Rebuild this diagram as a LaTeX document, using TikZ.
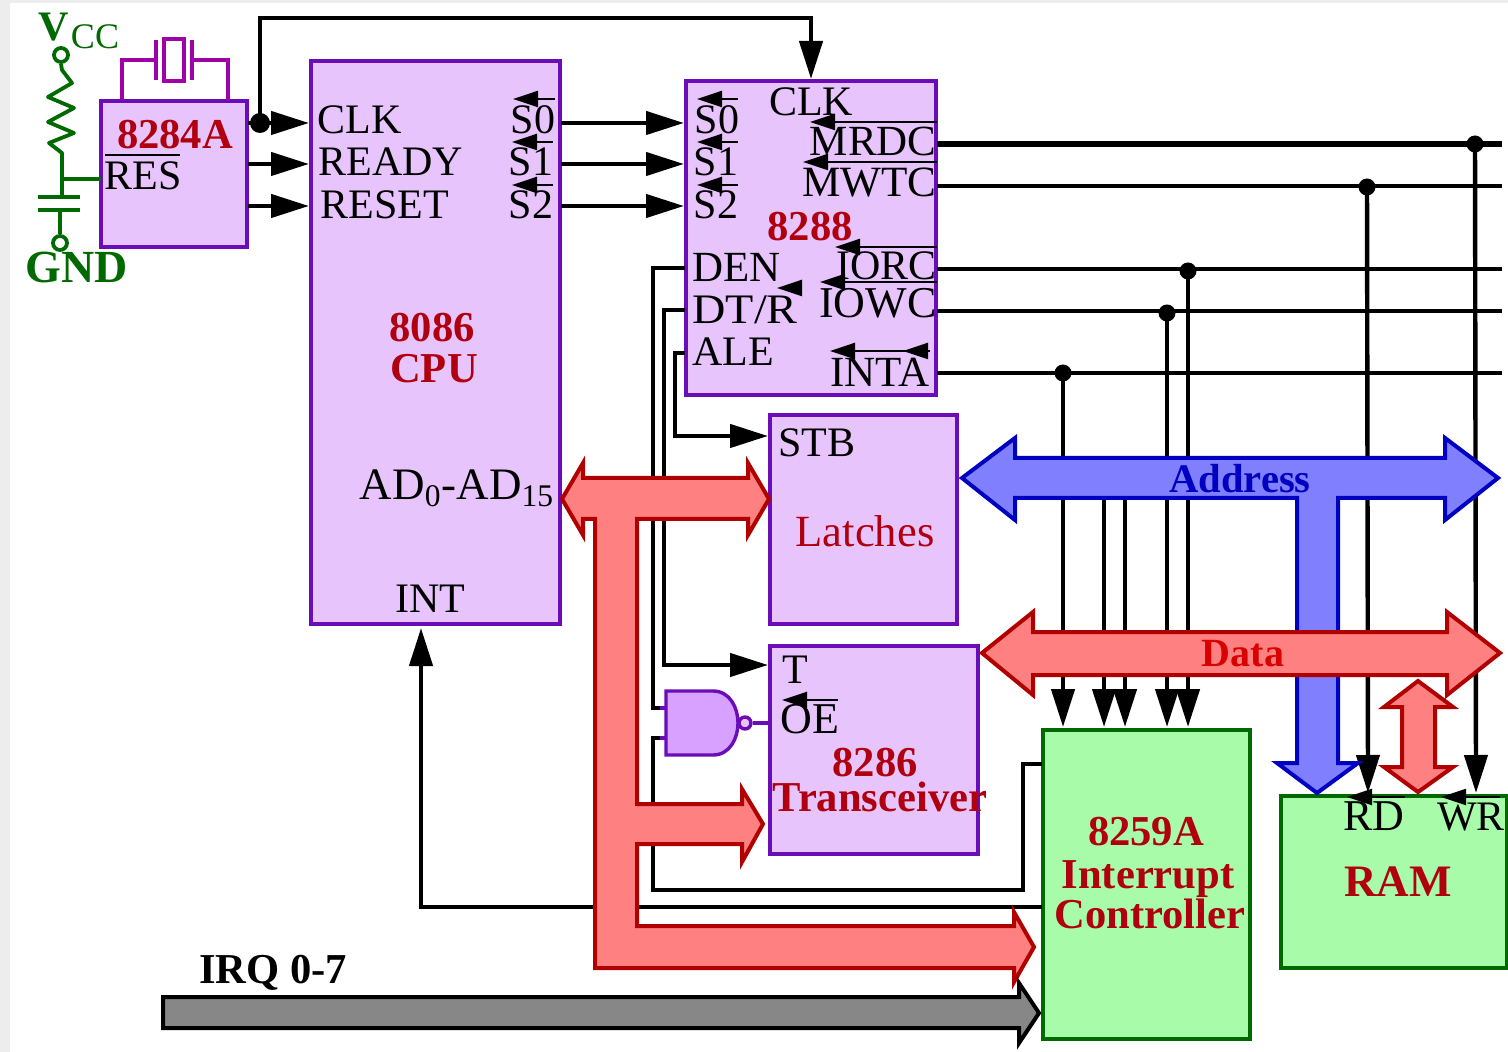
\documentclass[tikz,border=0pt]{standalone}
\usepackage{fontspec}
\setmainfont{Liberation Serif}
\usetikzlibrary{arrows.meta}
\definecolor{purp}{HTML}{6A0DB8}
\definecolor{lilac}{HTML}{E8C4FC}
\definecolor{nandfill}{HTML}{D8A0FF}
\definecolor{grn}{HTML}{006A00}
\definecolor{mint}{HTML}{A8FBA8}
\definecolor{xtal}{HTML}{A000A8}
\definecolor{lblred}{HTML}{B00010}
\definecolor{busred}{HTML}{B00000}
\definecolor{busredfill}{HTML}{FF8080}
\definecolor{busblue}{HTML}{0000C0}
\definecolor{busbluefill}{HTML}{8080FF}
\definecolor{irqfill}{HTML}{878787}
\tikzset{
  chipbox/.style={draw=purp,fill=lilac,line width=2.3pt,inner sep=0pt,outer sep=0pt},
  greenbox/.style={draw=grn,fill=mint,line width=2.3pt,inner sep=0pt,outer sep=0pt},
  wire/.style={draw=black,line width=2.2pt,line join=miter},
  thinwire/.style={draw=black,line width=2pt,line join=miter},
  arr/.style={wire,-{Triangle[length=19pt,width=11.5pt]}},
  dot/.style={circle,fill=black,inner sep=0pt,minimum size=10pt},
  pinlabel/.style={inner sep=0pt,text height=13.8pt,text depth=0pt,font=\fontsize{21}{24}\selectfont},
  partlabel/.style={inner sep=0pt,text height=13.8pt,text depth=0pt,text=lblred,font=\bfseries\fontsize{21.3}{25}\selectfont},
  ovl/.style={line width=1.2pt,{Triangle[length=12.5pt,width=8pt]}-},
  plainovl/.style={line width=1.2pt},
  redbus/.style={draw=busred,fill=busredfill,line width=2pt,miter limit=20},
  bluebus/.style={draw=busblue,fill=busbluefill,line width=2pt,miter limit=20},
  greenwire/.style={draw=grn,line width=1.9pt,line join=round},
  xtalwire/.style={draw=xtal,line width=1.9pt},
  purpwire/.style={draw=purp,line width=1.7pt},
  greenlabel/.style={inner sep=0pt,text depth=0pt,text=grn},
}
\begin{document}
\begin{tikzpicture}[x=0.5pt,y=-0.5pt]
\useasboundingbox (0,0) rectangle (1508,1052);
\fill[gray!14] (0,0) rectangle (1508,1052);
\fill[white] (10,3) rectangle (1508,1052);

% chips
\node[chipbox,minimum width=73pt,minimum height=73pt] (clkgen) at (174,174) {};
\node[chipbox,minimum width=124.5pt,minimum height=281.5pt] (cpu) at (435.5,342.5) {};
\node[chipbox,minimum width=125pt,minimum height=157pt] (ctrl) at (811,238) {};
\node[chipbox,minimum width=93.5pt,minimum height=104.5pt] (latch) at (863.5,519.5) {};
\node[chipbox,minimum width=104pt,minimum height=104pt] (xcvr) at (874,750) {};
\node[greenbox,minimum width=103.5pt,minimum height=154.5pt] (pic) at (1146.5,884.5) {};
\node[greenbox,minimum width=113pt,minimum height=86pt] (ram) at (1394,882) {};

% pins
\coordinate (aCLK) at (248,123); \coordinate (aRDY) at (248,164); \coordinate (aRST) at (248,206);
\coordinate (cCLK) at (309,123); \coordinate (cRDY) at (309,164); \coordinate (cRST) at (309,206);
\coordinate (cS0) at (561,123); \coordinate (cS1) at (561,164); \coordinate (cS2) at (561,206);
\coordinate (bS0) at (684,123); \coordinate (bS1) at (684,164); \coordinate (bS2) at (684,206);
\coordinate (bDEN) at (685,268); \coordinate (bDTR) at (685,310); \coordinate (bALE) at (685,353);
\coordinate (bMRDC) at (937,144); \coordinate (bMWTC) at (937,186); \coordinate (bIORC) at (937,269);
\coordinate (bIOWC) at (937,311); \coordinate (bINTA) at (937,373);
\coordinate (eMRDC) at (1502,144); \coordinate (eMWTC) at (1502,186); \coordinate (eIORC) at (1502,269);
\coordinate (eIOWC) at (1502,311); \coordinate (eINTA) at (1502,373);
\coordinate (bCLK) at (811,79);
\coordinate (lSTB) at (768,436); \coordinate (tT) at (768,665);
\coordinate (cINT) at (421,628); \coordinate (pINTR) at (1042,907); \coordinate (pCAS) at (1042,764);
\coordinate (nIn1) at (666,708); \coordinate (nIn2) at (666,738);
\coordinate (nOut) at (751,723); \coordinate (tOE) at (769,723);
\coordinate (pA) at (1063,727); \coordinate (pB) at (1104,727); \coordinate (pC) at (1125,727);
\coordinate (pD) at (1167,727); \coordinate (pE) at (1188,727);
\coordinate (rRD) at (1368,793); \coordinate (rWR) at (1476,793);
\coordinate (adrB) at (1104,495); \coordinate (adrC) at (1125,495);

% dots
\node[dot] (dCLK) at (260,123) {};
\node[dot,minimum size=8.5pt] (dMRDC) at (1475,144) {};
\node[dot,minimum size=8.5pt] (dMWTC) at (1367,187) {};
\node[dot,minimum size=8.5pt] (dIORC) at (1188,271) {};
\node[dot,minimum size=8.5pt] (dIOWC) at (1167,313) {};
\node[dot,minimum size=8.5pt] (dINTA) at (1063,373) {};

% clock and status wires
\draw[arr] (aCLK) -- (cCLK);
\draw[arr] (aRDY) -- (cRDY);
\draw[arr] (aRST) -- (cRST);
\draw[arr] (dCLK.center) |- (540,18) -| (bCLK);
\draw[arr] (cS0) -- (bS0);
\draw[arr] (cS1) -- (bS1);
\draw[arr] (cS2) -- (bS2);

% 8288 outputs
\draw[wire,line width=2.6pt] (bMRDC) -- (eMRDC);
\draw[thinwire] (bMWTC) -- (eMWTC);
\draw[wire] (bIORC) -- (eIORC);
\draw[wire] (bIOWC) -- (eIOWC);
\draw[wire] (bINTA) -- (eINTA);
\draw[arr] (dMRDC.center) -- (rWR);
\draw[arr] (dMWTC.center) -- (rRD);
\draw[arr] (dIORC.center) -- (pE);
\draw[arr] (dIOWC.center) -- (pD);
\draw[arr] (dINTA.center) -- (pA);
\draw[arr] (adrB) -- (pB);
\draw[arr] (adrC) -- (pC);

% 8288 control wires
\draw[wire] (bDEN) -| (653,500) |- (nIn1);
\draw[wire] (nIn2) -| (653,890) -- (1023,890) |- (pCAS);
\draw[arr] (bDTR) -| (664,500) |- (tT);
\draw[arr] (bALE) -| (675,400) |- (lSTB);
\draw[arr] (pINTR) -- (421,907) -- (cINT);

% buses
\draw[bluebus] (962,478) -- (1015,438) -- (1015,458) -- (1445,458) -- (1445,438) -- (1498,478)
  -- (1445,520) -- (1445,498) -- (1338,498) -- (1338,763) -- (1358,763) -- (1317,793) -- (1277,763)
  -- (1297,763) -- (1297,498) -- (1015,498) -- (1015,520) -- cycle;
\draw[redbus] (982,653) -- (1033,612) -- (1033,632) -- (1447,632) -- (1447,612) -- (1500,653)
  -- (1447,695) -- (1447,675) -- (1033,675) -- (1033,695) -- cycle;
\draw[redbus] (1418,681) -- (1453,707) -- (1435,707) -- (1435,767) -- (1453,767) -- (1418,792)
  -- (1384,767) -- (1402,767) -- (1402,707) -- (1384,707) -- cycle;
\draw[redbus] (562,499) -- (583,463) -- (583,478) -- (748,478) -- (748,463) -- (769,499) -- (748,535)
  -- (748,519) -- (637,519) -- (637,804) -- (742,804) -- (742,789) -- (763,824) -- (742,862)
  -- (742,844) -- (637,844) -- (637,926) -- (1014,926) -- (1014,912) -- (1034,947) -- (1014,982)
  -- (1014,968) -- (595,968) -- (595,519) -- (583,519) -- (583,535) -- cycle;
\draw[fill=irqfill,draw=black,line width=2pt,miter limit=20] (163,997) -- (1019,997) -- (1019,983)
  -- (1039,1013) -- (1019,1043) -- (1019,1028) -- (163,1028) -- cycle;

% NAND gate
\draw[purpwire,fill=nandfill] (666,691) -- (713,691) .. controls (730,691) and (738,708) .. (738,723)
  .. controls (738,738) and (730,755) .. (713,755) -- (666,755) -- cycle;
\node[circle,draw=purp,fill=lilac,line width=1.7pt,minimum size=6pt,inner sep=0pt] (bubble) at (745,723) {};
\draw[purpwire] (bubble.east) -- (tOE);
\draw[purpwire] (660,708) -- (nIn1);
\draw[purpwire] (660,738) -- (nIn2);

% crystal
\draw[xtalwire] (122,100) |- (156,60);
\draw[xtalwire] (228,100) |- (192,60);
\draw[xtalwire] (156,40) -- (156,80);
\draw[xtalwire] (192,40) -- (192,80);
\draw[xtalwire] (164,39) rectangle (184,81);

% reset network
\node[circle,draw=grn,line width=1.9pt,fill=white,minimum size=7pt,inner sep=0pt] (vcc) at (61,55) {};
\node[circle,draw=grn,line width=1.9pt,fill=white,minimum size=7pt,inner sep=0pt] (gnd) at (60,243) {};
\draw[greenwire] (vcc.south) -- (62,70) -- (72,83) -- (48,97) -- (74,108) -- (48,122) -- (74,133) -- (49,143) -- (62,153) -- (62,197);
\draw[greenwire] (38,197) -- (80,197);
\draw[greenwire] (38,210) -- (80,210);
\draw[greenwire] (60,210) -- (gnd.north);
\draw[greenwire] (62,179) -- (clkgen.west |- 0,179);

% labels
\node[greenlabel,text height=14pt,font=\bfseries\fontsize{21}{26}\selectfont] (tV) at (54,27) {V};
\node[greenlabel,text height=11pt,font=\fontsize{18}{22}\selectfont] (tCC) at (95,38) {CC};
\node[greenlabel,text height=15pt,font=\bfseries\fontsize{23}{26}\selectfont] (tGND) at (77,268) {GND};

\node[partlabel] (t8284) at (175,135) {8284A};
\node[pinlabel] (tRES) at (143,176) {RES};
\draw[plainovl] (105,155) -- (180,155);

\node[pinlabel,anchor=west] (tcCLK) at (317,120) {CLK};
\node[pinlabel,anchor=west] (tcRDY) at (318,162) {READY};
\node[pinlabel,anchor=west] (tcRST) at (320,205) {RESET};
\node[pinlabel] (tcS0) at (533,120) {S0};
\node[pinlabel] (tcS1) at (531,162) {S1};
\node[pinlabel] (tcS2) at (531,205) {S2};
\draw[ovl] (513,99) -- (555,99);
\draw[ovl] (512,142) -- (553,142);
\draw[ovl] (512,185) -- (553,185);
\node[partlabel] (t8086) at (432,328) {8086};
\node[partlabel] (tCPU) at (434,369) {CPU};
\node[pinlabel,font=\fontsize{22.5}{26}\selectfont] (tAD) at (457,486) {AD\textsubscript{0}-AD\textsubscript{15}};
\node[pinlabel] (tINT) at (430,599) {INT};

\node[pinlabel] (tbS0) at (717,120) {S0};
\node[pinlabel] (tbS1) at (716,162) {S1};
\node[pinlabel] (tbS2) at (716,205) {S2};
\draw[ovl] (697,99) -- (738,99);
\draw[ovl] (697,142) -- (738,142);
\draw[ovl] (697,185) -- (738,185);
\node[pinlabel] (tbCLK) at (811,102) {CLK};
\node[pinlabel,anchor=east,font=\fontsize{21.5}{24}\selectfont] (tMRDC) at (937,142) {MRDC};
\draw[ovl] (810,122) -- (937,122);
\node[pinlabel,anchor=east,font=\fontsize{21.6}{24}\selectfont] (tMWTC) at (937,183) {MWTC};
\draw[ovl] (803,162) -- (937,162);
\node[partlabel] (t8288) at (810,227) {8288};
\node[pinlabel,anchor=east] (tIORC) at (937,266) {IORC};
\draw[ovl] (835,247) -- (937,247);
\node[pinlabel,anchor=east,font=\fontsize{22}{24}\selectfont] (tIOWC) at (937,304) {IOWC};
\draw[ovl] (820,282) -- (937,282);
\node[pinlabel,anchor=west,font=\fontsize{21.5}{24}\selectfont] (tDEN) at (692,268) {DEN};
\node[pinlabel,anchor=west,xscale=1.1,transform shape] (tDTR) at (692,310) {DT/R};
\draw[ovl] (777,288) -- (802,288);
\node[pinlabel,anchor=west] (tALE) at (692,352) {ALE};
\node[pinlabel,anchor=east,font=\fontsize{21.5}{24}\selectfont] (tINTA) at (930,373) {INTA};
\draw[ovl] (830,351) -- (930,351);
\draw[ovl] (903,351) -- (930,351);

\node[pinlabel,anchor=west] (tSTB) at (778,443) {STB};
\node[partlabel,font=\fontsize{22.3}{25}\selectfont] (tLatches) at (865,533) {Latches};
\node[pinlabel] (tT) at (795,670) {T};
\node[pinlabel,anchor=west,font=\fontsize{22}{24}\selectfont] (tOE) at (780,720) {OE};
\draw[ovl] (782,700) -- (838,700);
\node[partlabel] (t8286) at (875,763) {8286};
\node[partlabel] (tTrans) at (880,798) {Transceiver};

\node[partlabel] (t8259) at (1146,832) {8259A};
\node[partlabel] (tInterrupt) at (1148,875) {Interrupt};
\node[partlabel] (tController) at (1150,915) {Controller};
\node[partlabel,font=\bfseries\fontsize{22.5}{25}\selectfont] (tRAM) at (1398,883) {RAM};
\node[pinlabel,font=\fontsize{22}{24}\selectfont] (tRD) at (1374,817) {RD};
\node[pinlabel] (tWR) at (1471,817) {WR};
\draw[ovl] (1347,797) -- (1405,797);
\draw[ovl] (1441,797) -- (1500,797);

\node[partlabel,text=black] (tIRQ) at (273,970) {IRQ 0-7};
\node[partlabel,text=busblue,font=\bfseries\fontsize{20.3}{25}\selectfont] (tAddr) at (1240,479) {Address};
\node[partlabel,text=red!85!black,font=\bfseries\fontsize{20}{25}\selectfont] (tData) at (1243,653) {Data};
\end{tikzpicture}
\end{document}
